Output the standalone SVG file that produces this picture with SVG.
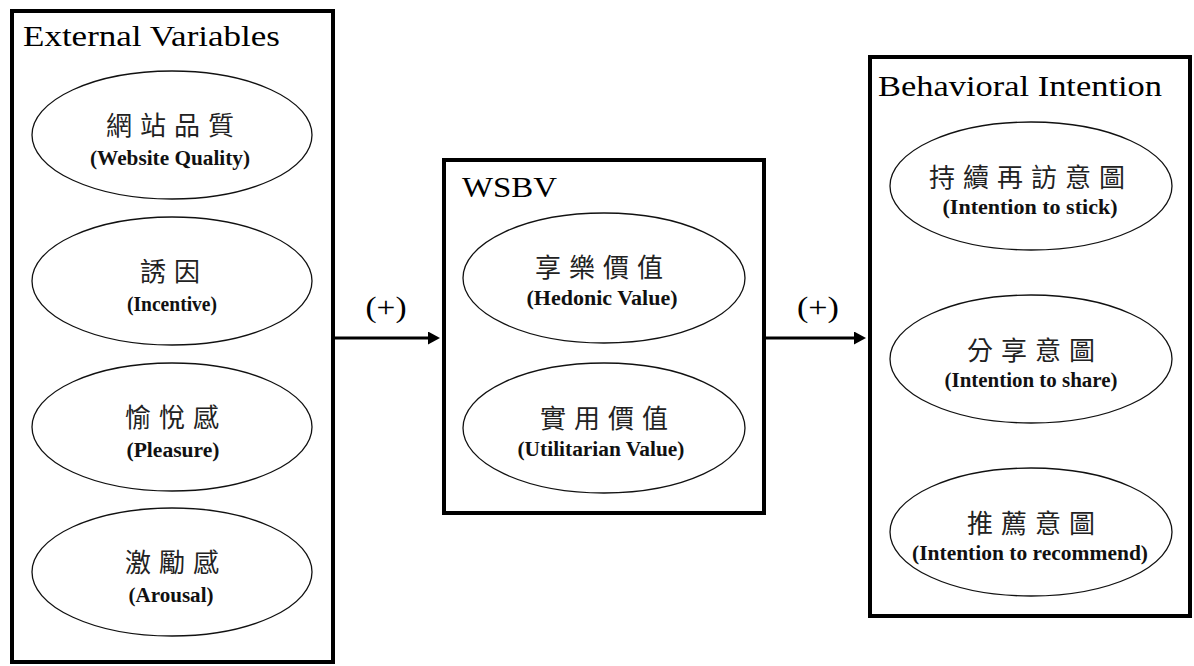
<svg xmlns="http://www.w3.org/2000/svg" width="1194" height="666" viewBox="0 0 1194 666">
<style>
.box{fill:none;stroke:#000;stroke-width:4}
.ell{fill:#fff;stroke:#111;stroke-width:1.3}
.title{font-family:"Liberation Serif","Times New Roman",serif;font-size:29px;fill:#000}
.zh{font-family:"Noto Sans CJK TC","Noto Sans CJK SC",sans-serif;font-size:26px;letter-spacing:8px;fill:#222;text-anchor:middle}
.en{font-family:"Liberation Serif","Times New Roman",serif;font-size:20px;font-weight:bold;fill:#111;text-anchor:middle}
.plus{font-family:"Liberation Serif","Times New Roman",serif;font-size:30px;fill:#000;text-anchor:middle}
.conn{stroke:#000;stroke-width:3;fill:none}
</style>
<defs>
<marker id="arr" markerUnits="userSpaceOnUse" markerWidth="12" markerHeight="13" refX="0" refY="6.5" orient="auto">
<path d="M0,0 L12,6.5 L0,13 z" fill="#000"/>
</marker>
</defs>
<rect width="1194" height="666" fill="#fff"/>

<g id="external-variables">
<rect class="box" x="12" y="11" width="321" height="651"/>
<text class="title" x="23" y="46" textLength="257" lengthAdjust="spacingAndGlyphs">External Variables</text>
<g id="website-quality">
<ellipse class="ell" cx="172" cy="135" rx="140" ry="64"/>
<text class="zh" x="174" y="135">網站品質</text>
<text class="en" x="170" y="165" textLength="160" lengthAdjust="spacingAndGlyphs">(Website Quality)</text>
</g>
<g id="incentive">
<ellipse class="ell" cx="172" cy="281" rx="140" ry="64"/>
<text class="zh" x="174" y="281">誘因</text>
<text class="en" x="172" y="311" textLength="90" lengthAdjust="spacingAndGlyphs">(Incentive)</text>
</g>
<g id="pleasure">
<ellipse class="ell" cx="172" cy="427" rx="140" ry="64"/>
<text class="zh" x="176" y="427">愉悅感</text>
<text class="en" x="173" y="457" textLength="93" lengthAdjust="spacingAndGlyphs">(Pleasure)</text>
</g>
<g id="arousal">
<ellipse class="ell" cx="172" cy="572" rx="140" ry="64"/>
<text class="zh" x="176" y="572">激勵感</text>
<text class="en" x="171" y="602" textLength="85" lengthAdjust="spacingAndGlyphs">(Arousal)</text>
</g>
</g>

<g id="wsbv">
<rect class="box" x="444" y="160" width="320" height="353"/>
<text class="title" x="462" y="197" textLength="95" lengthAdjust="spacingAndGlyphs">WSBV</text>
<g id="hedonic-value">
<ellipse class="ell" cx="604" cy="278" rx="141" ry="65"/>
<text class="zh" x="603" y="277">享樂價值</text>
<text class="en" x="602" y="305" textLength="151" lengthAdjust="spacingAndGlyphs">(Hedonic Value)</text>
</g>
<g id="utilitarian-value">
<ellipse class="ell" cx="604" cy="428" rx="141" ry="65"/>
<text class="zh" x="608" y="428">實用價值</text>
<text class="en" x="601" y="456" textLength="167" lengthAdjust="spacingAndGlyphs">(Utilitarian Value)</text>
</g>
</g>

<g id="behavioral-intention">
<rect class="box" x="870" y="57" width="320" height="559"/>
<text class="title" x="878" y="96" textLength="284" lengthAdjust="spacingAndGlyphs">Behavioral Intention</text>
<g id="intention-stick">
<ellipse class="ell" cx="1031" cy="186" rx="141" ry="64"/>
<text class="zh" x="1031" y="187">持續再訪意圖</text>
<text class="en" x="1030" y="214" textLength="175" lengthAdjust="spacingAndGlyphs">(Intention to stick)</text>
</g>
<g id="intention-share">
<ellipse class="ell" cx="1031" cy="359" rx="141" ry="64"/>
<text class="zh" x="1035" y="360">分享意圖</text>
<text class="en" x="1031" y="387" textLength="173" lengthAdjust="spacingAndGlyphs">(Intention to share)</text>
</g>
<g id="intention-recommend">
<ellipse class="ell" cx="1031" cy="532" rx="141" ry="64"/>
<text class="zh" x="1035" y="533">推薦意圖</text>
<text class="en" x="1030" y="560" textLength="236" lengthAdjust="spacingAndGlyphs">(Intention to recommend)</text>
</g>
</g>

<g id="connectors">
<line class="conn" x1="335" y1="338" x2="428" y2="338" marker-end="url(#arr)"/>
<text class="plus" x="386" y="317" textLength="41" lengthAdjust="spacingAndGlyphs">(+)</text>
<line class="conn" x1="766" y1="338" x2="854" y2="338" marker-end="url(#arr)"/>
<text class="plus" x="818" y="317" textLength="42" lengthAdjust="spacingAndGlyphs">(+)</text>
</g>
</svg>
